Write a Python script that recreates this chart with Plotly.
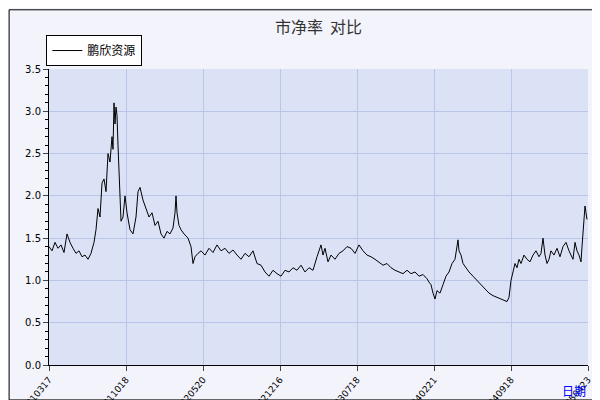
import plotly.graph_objects as go

tick_labels = ["20210317", "20211018", "20220520", "20221216", "20230718", "20240221", "20240918", "20250423"]
tick_pos = [0, 77, 154, 231, 308, 385, 462, 539]

# trading-day index (scaled) and price-to-book values
idx = [0, 3, 6, 9, 12, 15, 18, 21, 24, 27, 30, 33, 36, 39, 42, 45, 47, 49, 51, 53, 55, 57, 59, 61, 63, 64, 65, 66, 67, 68, 69, 70, 71, 72, 74, 76, 78, 81, 84, 87, 89, 91, 94, 97, 100, 103, 106, 109, 112, 115, 118, 121, 124, 126, 127, 128, 130, 132, 135, 139, 142, 144, 146, 149, 152, 156, 160, 164, 168, 172, 176, 180, 184, 188, 192, 196, 200, 204, 208, 212, 216, 220, 224, 228, 232, 236, 240, 244, 248, 252, 256, 260, 264, 268, 270, 272, 274, 276, 279, 282, 286, 290, 294, 298, 302, 306, 310, 314, 318, 322, 326, 330, 334, 338, 342, 346, 350, 354, 358, 362, 366, 370, 374, 378, 380, 382, 384, 386, 388, 391, 394, 397, 400, 403, 406, 408, 409, 410, 412, 414, 417, 420, 424, 428, 432, 436, 440, 444, 448, 452, 455, 458, 460, 462, 464, 466, 468, 470, 472, 475, 478, 481, 484, 487, 490, 492, 494, 496, 498, 500, 502, 505, 508, 511, 514, 517, 520, 522, 524, 526, 528, 530, 532, 533, 534, 535, 536, 537, 538, 539]
pb = [1.40, 1.35, 1.45, 1.38, 1.42, 1.33, 1.55, 1.45, 1.38, 1.32, 1.35, 1.28, 1.30, 1.25, 1.32, 1.45, 1.60, 1.85, 1.75, 2.15, 2.20, 2.05, 2.50, 2.40, 2.70, 2.55, 3.10, 2.85, 3.05, 2.95, 2.60, 2.20, 1.95, 1.70, 1.75, 2.00, 1.80, 1.60, 1.55, 1.75, 2.05, 2.10, 1.95, 1.85, 1.75, 1.80, 1.65, 1.70, 1.55, 1.50, 1.58, 1.55, 1.62, 1.80, 2.00, 1.80, 1.65, 1.60, 1.55, 1.50, 1.40, 1.20, 1.28, 1.32, 1.35, 1.30, 1.38, 1.33, 1.42, 1.35, 1.38, 1.32, 1.36, 1.30, 1.25, 1.32, 1.28, 1.35, 1.20, 1.18, 1.10, 1.05, 1.12, 1.08, 1.05, 1.12, 1.10, 1.15, 1.12, 1.18, 1.10, 1.15, 1.12, 1.28, 1.35, 1.42, 1.30, 1.38, 1.22, 1.30, 1.25, 1.32, 1.35, 1.40, 1.38, 1.32, 1.42, 1.35, 1.30, 1.28, 1.25, 1.22, 1.18, 1.20, 1.15, 1.12, 1.10, 1.08, 1.12, 1.08, 1.10, 1.05, 1.07, 1.02, 0.98, 0.95, 0.85, 0.78, 0.88, 0.85, 0.95, 1.05, 1.10, 1.20, 1.25, 1.38, 1.48, 1.35, 1.30, 1.20, 1.15, 1.10, 1.05, 1.00, 0.95, 0.90, 0.85, 0.82, 0.80, 0.78, 0.76, 0.75, 0.80, 1.00, 1.10, 1.20, 1.15, 1.25, 1.20, 1.30, 1.25, 1.22, 1.30, 1.35, 1.28, 1.32, 1.50, 1.30, 1.20, 1.25, 1.35, 1.30, 1.38, 1.28, 1.40, 1.45, 1.35, 1.30, 1.25, 1.45, 1.35, 1.30, 1.22, 1.40, 1.60, 1.75, 1.88, 1.80, 1.72]

fig = go.Figure(go.Scatter(x=idx, y=pb, mode="lines", line=dict(color="black", width=1), name="鹏欣资源"))

font = "Noto Sans CJK SC"
fig.update_layout(
    width=600, height=400,
    margin=dict(l=41, r=20, t=61, b=43, autoexpand=False),
    paper_bgcolor="#f3f4fb", plot_bgcolor="#dce2f6",
    title=dict(text="市净率  对比", x=0.5, xref="paper", y=0.965, yref="container", yanchor="top",
               font=dict(family=font, size=16, color="#333")),
    showlegend=True,
    legend=dict(x=-0.005, y=1.01, xanchor="left", yanchor="bottom", bgcolor="white", bordercolor="black", borderwidth=1,
                font=dict(family=font, size=12, color="black"), itemwidth=30),
    font=dict(family="DejaVu Sans", size=10, color="black"),
)
fig.update_xaxes(range=[0, 539], tickvals=tick_pos, ticktext=tick_labels, tickangle=-50, automargin=False,
                 showgrid=True, gridcolor="#b9c5e9", showline=True, linecolor="black",
                 ticks="outside", ticklen=5, tickfont=dict(size=9), zeroline=False)
fig.update_yaxes(range=[0, 3.5], dtick=0.5, tickformat=".1f", showgrid=True, gridcolor="#b9c5e9", automargin=False,
                 showline=True, linecolor="black", ticks="outside", ticklen=5,
                 minor=dict(dtick=0.1, ticks="outside", ticklen=3, tickcolor="black"), zeroline=False)
fig.add_shape(type="rect", xref="paper", yref="paper", x0=-0.074, y0=-0.118, x1=1.022, y1=1.2, line=dict(color="black", width=1))
fig.add_annotation(text="日期", xref="paper", yref="paper", x=1.0, y=-0.05, xanchor="right", yanchor="top",
                   showarrow=False, font=dict(family=font, size=12, color="blue"))
fig.write_html("out.html")
